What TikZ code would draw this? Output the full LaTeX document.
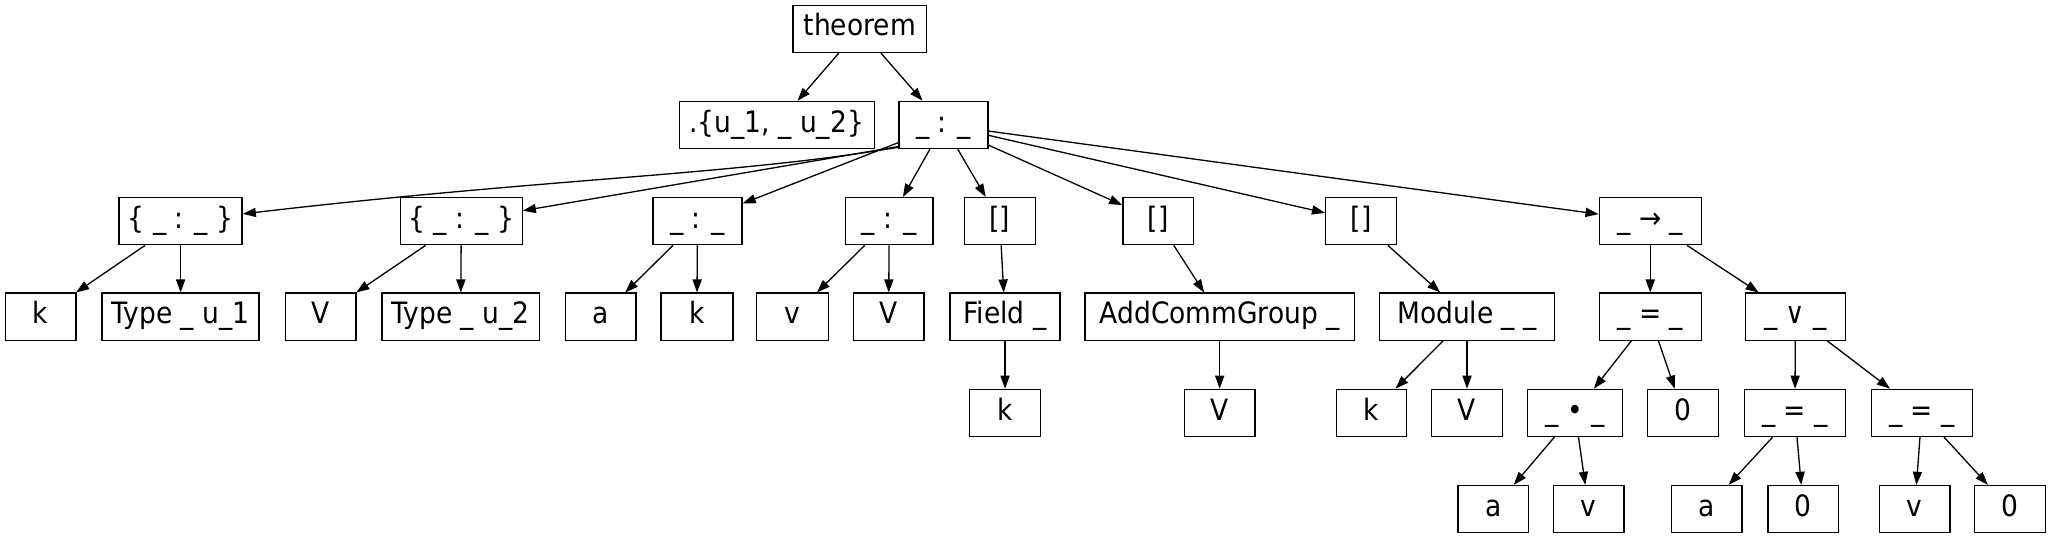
\documentclass[tikz,border=0pt]{standalone}
\usepackage{fontspec}
\setmainfont{DejaVu Sans Condensed}
\usetikzlibrary{arrows.meta}
\begin{document}
\begin{tikzpicture}[x=1pt,y=1pt,
term/.style={draw=black,line width=1pt,minimum width=54pt,minimum height=36pt,inner xsep=4pt,inner ysep=0pt,
  text height=16pt,text depth=5pt,font=\fontsize{22.5}{25}\selectfont,text=black},
wd/.style={minimum width=#1},
edge/.style={line width=1pt,-{Triangle[length=10pt,width=7pt]}}
]
\useasboundingbox (0,0) rectangle (1568,-412);
% level 1 and 2
\node[term,wd=102pt] (thm) at (657,-22) {theorem};
\node[term,wd=149pt] (univ) at (593.5,-95.5) {.\{u\_1, \_ u\_2\}};
\node[term,wd=68pt] (col) at (721,-95.5) {\_ : \_};
% level 3
\node[term,wd=94pt] (setA) at (138,-169) {\{ \_ : \_ \}};
\node[term,wd=93pt] (setB) at (352.5,-169) {\{ \_ : \_ \}};
\node[term,wd=68pt] (colA) at (533,-169) {\_ : \_};
\node[term,wd=67pt] (colV) at (679.5,-169) {\_ : \_};
\node[term] (instF) at (764,-169) {[]};
\node[term] (instG) at (885,-169) {[]};
\node[term] (instM) at (1040,-169) {[]};
\node[term,wd=78pt] (imp) at (1261,-169) {\_ → \_};
% level 4
\node[term] (kA) at (31,-242) {k};
\node[term,wd=120pt] (ty1) at (138,-242) {Type \_ u\_1};
\node[term] (VA) at (245,-242) {V};
\node[term,wd=120pt] (ty2) at (352,-242) {Type \_ u\_2};
\node[term] (aA) at (459,-242) {a};
\node[term,wd=55pt] (kB) at (532.5,-242) {k};
\node[term,wd=55pt] (vB) at (605.5,-242) {v};
\node[term] (VB) at (679,-242) {V};
\node[term,wd=84pt] (field) at (768,-242) {Field \_};
\node[term,wd=206pt] (acg) at (932,-242) {AddCommGroup \_};
\node[term,wd=134pt] (mod) at (1121,-242) {Module \_ \_};
\node[term,wd=78pt] (eqA) at (1261,-242) {\_ = \_};
\node[term,wd=76pt] (lor) at (1372,-242) {\_ ∨ \_};
% level 5
\node[term] (kC) at (768,-315.5) {k};
\node[term] (VC) at (932,-315.5) {V};
\node[term] (kD) at (1048,-315.5) {k};
\node[term] (VD) at (1121,-315.5) {V};
\node[term,wd=73pt] (smul) at (1203.5,-315.5) {\_ • \_};
\node[term] (zA) at (1286,-315.5) {0};
\node[term,wd=77pt] (eqB) at (1371.5,-315.5) {\_ = \_};
\node[term,wd=77pt] (eqC) at (1468.5,-315.5) {\_ = \_};
% level 6
\node[term] (aB) at (1141,-389) {a};
\node[term] (vC) at (1214,-389) {v};
\node[term] (aC) at (1304,-389) {a};
\node[term] (zB) at (1378,-389) {0};
\node[term] (vD) at (1463,-389) {v};
\node[term] (zC) at (1536,-389) {0};
% edges
\draw[edge] (thm) -- (univ);
\draw[edge] (thm) -- (col);
\draw[edge] ([yshift=1.5pt]col.south west) .. controls (560,-134) and (420,-136) .. (setA);
\draw[edge] ([yshift=2pt]col.south west) -- (setB);
\draw[edge] (col) -- (colA);
\draw[edge] (col) -- (colV);
\draw[edge] (col) -- (instF);
\draw[edge] (col) -- (instG);
\draw[edge] (col) -- (instM);
\draw[edge] (col) -- (imp);
\draw[edge] (setA) -- (kA);
\draw[edge] (setA) -- (ty1);
\draw[edge] (setB) -- (VA);
\draw[edge] (setB) -- (ty2);
\draw[edge] (colA) -- (aA);
\draw[edge] (colA) -- (kB);
\draw[edge] (colV) -- (vB);
\draw[edge] (colV) -- (VB);
\draw[edge] (instF) -- (field);
\draw[edge] (instG) -- (acg);
\draw[edge] (instM) -- (mod);
\draw[edge] (imp) -- (eqA);
\draw[edge] (imp) -- (lor);
\draw[edge] (field) -- (kC);
\draw[edge] (acg) -- (VC);
\draw[edge] (mod) -- (kD);
\draw[edge] (mod) -- (VD);
\draw[edge] (eqA) -- (smul);
\draw[edge] (eqA) -- (zA);
\draw[edge] (lor) -- (eqB);
\draw[edge] (lor) -- (eqC);
\draw[edge] (smul) -- (aB);
\draw[edge] (smul) -- (vC);
\draw[edge] (eqB) -- (aC);
\draw[edge] (eqB) -- (zB);
\draw[edge] (eqC) -- (vD);
\draw[edge] (eqC) -- (zC);
\end{tikzpicture}
\end{document}
